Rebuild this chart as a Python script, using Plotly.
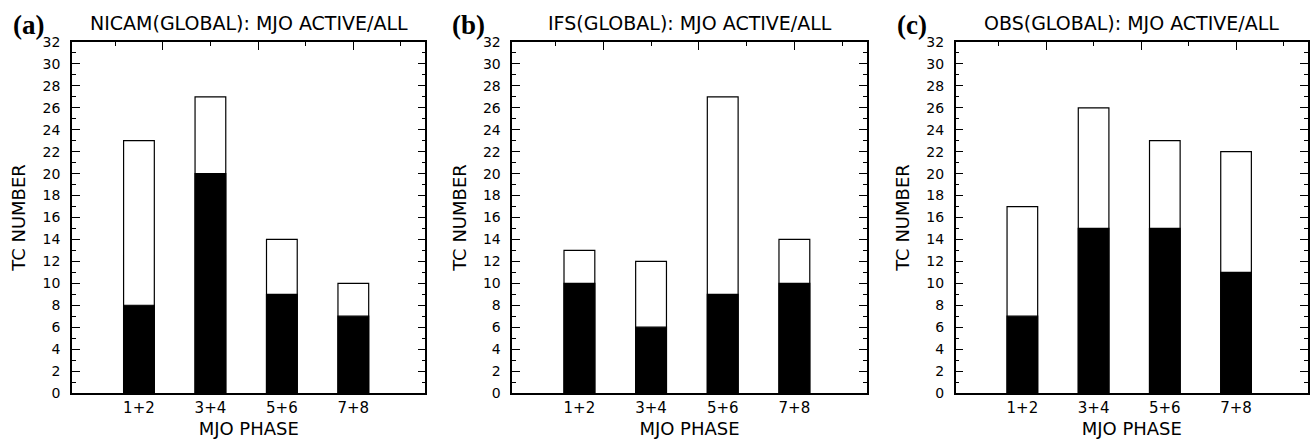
import plotly.graph_objects as go

phases = ["1+2", "3+4", "5+6", "7+8"]
titles = ["NICAM(GLOBAL): MJO ACTIVE/ALL", "IFS(GLOBAL): MJO ACTIVE/ALL", "OBS(GLOBAL): MJO ACTIVE/ALL"]
panel_labels = ["(a)", "(b)", "(c)"]
all_tc = [[23, 27, 14, 10], [13, 12, 27, 14], [17, 26, 23, 22]]
active_tc = [[8, 20, 9, 7], [10, 6, 9, 10], [7, 15, 15, 11]]

xpos = [1, 2, 3, 4]
domains = [[0.0, 0.286], [0.3562, 0.643], [0.7149, 1.0]]
xr = [0.063, 5.01]
top_major = [4/3, 8/3, 4]
top_minor = [2/3, 2, 10/3, 14/3]

FONT = "DejaVu Sans, Verdana, sans-serif"
fig = go.Figure()
layout = dict(
    width=1314, height=440,
    margin=dict(l=72, r=4, t=42, b=47),
    paper_bgcolor="white", plot_bgcolor="white",
    barmode="overlay", showlegend=False,
    font=dict(family=FONT, color="black", size=14),
)
annotations = []
for i in range(3):
    xa = "x" if i == 0 else f"x{i+1}"
    ya = "y" if i == 0 else f"y{i+1}"
    fig.add_trace(go.Bar(x=xpos, y=all_tc[i], width=0.43, xaxis=xa, yaxis=ya,
                         marker=dict(color="white", line=dict(color="black", width=1.2))))
    fig.add_trace(go.Bar(x=xpos, y=active_tc[i], width=0.43, xaxis=xa, yaxis=ya,
                         marker=dict(color="black", line=dict(color="black", width=1.2))))
    kx = "xaxis" if i == 0 else f"xaxis{i+1}"
    ky = "yaxis" if i == 0 else f"yaxis{i+1}"
    layout[kx] = dict(domain=domains[i], range=xr, anchor=ya,
                      tickmode="array", tickvals=xpos, ticktext=phases,
                      ticks="", showline=True, linecolor="black", linewidth=1.5,
                      mirror=True, showgrid=False, zeroline=False,
                      tickfont=dict(size=15, family=FONT),
                      title=dict(text="MJO PHASE", font=dict(size=18, family=FONT), standoff=7))
    layout[ky] = dict(domain=[0, 1], range=[0, 32], anchor=xa,
                      tickmode="linear", tick0=0, dtick=2,
                      ticks="inside", ticklen=8, tickwidth=1.3, tickcolor="black",
                      minor=dict(dtick=1, ticks="inside", ticklen=4, tickwidth=1.3, tickcolor="black"),
                      showline=True, linecolor="black", linewidth=1.5, mirror="ticks",
                      showgrid=False, zeroline=False, ticklabelstandoff=7,
                      tickfont=dict(size=14, family=FONT),
                      title=dict(text="TC NUMBER", font=dict(size=18, family=FONT), standoff=12))
    # top decorative axis
    kt = f"xaxis{i+4}"
    layout[kt] = dict(domain=domains[i], range=xr, overlaying=xa, anchor=ya, side="top",
                      tickmode="array", tickvals=top_major, ticks="inside", ticklen=8,
                      tickwidth=1.3, tickcolor="black", showticklabels=False,
                      minor=dict(tickmode="array", tickvals=top_minor, ticks="inside",
                                 ticklen=4, tickwidth=1.3, tickcolor="black"),
                      showline=False, showgrid=False, zeroline=False)
    fig.add_trace(go.Scatter(x=[xr[0]], y=[0], xaxis=f"x{i+4}", yaxis=ya,
                             mode="markers", marker=dict(opacity=0), hoverinfo="skip"))
    cx = (domains[i][0] + domains[i][1]) / 2
    annotations.append(dict(text=titles[i], x=cx, y=1.0, xref="paper", yref="paper",
                            yshift=19, showarrow=False, xanchor="center", yanchor="middle",
                            font=dict(size=19, family=FONT)))
    annotations.append(dict(text="<b>" + panel_labels[i] + "</b>", x=domains[i][0], y=1.0,
                            xref="paper", yref="paper", xshift=-44, yshift=17,
                            showarrow=False, xanchor="center", yanchor="middle",
                            font=dict(size=27, family="Liberation Serif, Times New Roman, serif")))
layout["annotations"] = annotations
fig.update_layout(**layout)
fig.write_html("out.html", config={"displayModeBar": False},
               post_script="document.body.style.margin='0';")
